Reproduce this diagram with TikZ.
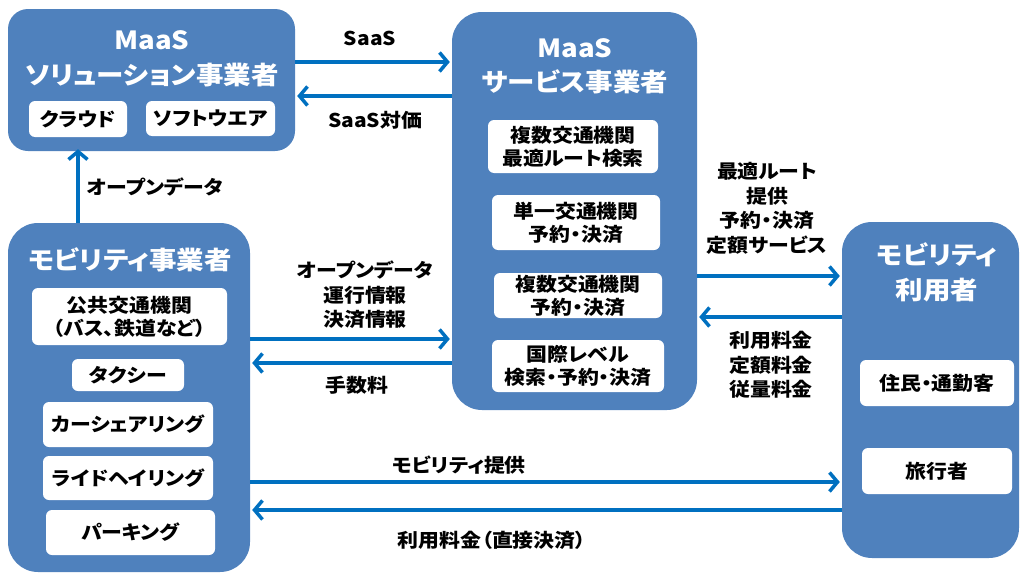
\documentclass[tikz,border=0pt]{standalone}
\usepackage{fontspec}
\setmainfont{Noto Sans CJK JP}[FakeStretch=1.1,RawFeature=+palt]
\usetikzlibrary{arrows.meta}
\definecolor{boxblue}{HTML}{4F81BD}
\definecolor{arrblue}{HTML}{0070C0}
\tikzset{
  bigbox/.style={fill=boxblue,draw=none,rounded corners=26pt,inner sep=0pt},
  subbox/.style={fill=white,draw=none,rounded corners=6pt,inner sep=0pt,font=\bfseries\fontsize{19}{23}\selectfont,align=center},
  title/.style={text=white,font=\bfseries\fontsize{25}{32}\selectfont,inner sep=0pt},
  lbl/.style={font=\bfseries\fontsize{19}{24.5}\selectfont,align=center,inner sep=0pt},
  arr/.style={draw=arrblue,line width=3.5pt,-{Straight Barb[length=8pt,width=19pt]}},
}
\begin{document}
\begin{tikzpicture}[x=1pt,y=-1pt]
\useasboundingbox (0,0) rectangle (1021,573);
% big boxes
\node[bigbox,minimum width=287pt,minimum height=142pt,rounded corners=20pt] (b1) at (151.5,80) {};
\node[bigbox,minimum width=245pt,minimum height=398pt,rounded corners=30pt] (b2) at (574.5,211) {};
\node[bigbox,minimum width=242pt,minimum height=349pt,rounded corners=30pt] (b3) at (129,397.5) {};
\node[bigbox,minimum width=177pt,minimum height=336pt,rounded corners=30pt] (b4) at (930.5,390) {};
% titles
\node[title] (t1a) at (152,40) {MaaS};
\node[title] (t1b) at (152,75) {ソリューション事業者};
\node[title] (t2a) at (575,48) {MaaS};
\node[title] (t2b) at (575,82) {サービス事業者};
\node[title] (t3) at (130,260) {モビリティ事業者};
\node[title] (t4a) at (937,255) {モビリティ};
\node[title] (t4b) at (937,290) {利用者};
% sub boxes
\node[subbox,minimum width=98pt,minimum height=36pt] (c1) at (78,119) {クラウド};
\node[subbox,minimum width=129pt,minimum height=35pt] (c2) at (210.5,118.5) {ソフトウエア};
\node[subbox,minimum width=170pt,minimum height=53pt] (s1) at (573,146.5) {複数交通機関\\最適ルート検索};
\node[subbox,minimum width=168pt,minimum height=55pt] (s2) at (576,222.5) {単一交通機関\\予約・決済};
\node[subbox,minimum width=168pt,minimum height=45pt] (s3) at (578,295.5) {複数交通機関\\予約・決済};
\node[subbox,minimum width=172pt,minimum height=52pt] (s4) at (578,366) {国際レベル\\検索・予約・決済};
\node[subbox,minimum width=195pt,minimum height=57pt] (m1) at (129.5,316.5) {公共交通機関\\（バス、鉄道など）};
\node[subbox,minimum width=112pt,minimum height=32pt] (m2) at (128,375) {タクシー};
\node[subbox,minimum width=170pt,minimum height=45pt] (m3) at (128,424.5) {カーシェアリング};
\node[subbox,minimum width=170pt,minimum height=44pt] (m4) at (128,478) {ライドヘイリング};
\node[subbox,minimum width=169pt,minimum height=45pt] (m5) at (130.5,532.5) {パーキング};
\node[subbox,minimum width=154pt,minimum height=46pt] (u1) at (937,383) {住民・通勤客};
\node[subbox,minimum width=150pt,minimum height=46pt] (u2) at (937,471) {旅行者};
% arrows
\draw[arr] (b1.east |- 0,62) -- ([xshift=-2pt]b2.west |- 0,62);
\draw[arr] (b2.west |- 0,96) -- ([xshift=2pt]b1.east |- 0,96);
\draw[arr] (b3.north -| 78,0) -- ([yshift=2pt]b1.south -| 78,0);
\draw[arr] (b3.east |- 0,339) -- ([xshift=-2pt]b2.west |- 0,339);
\draw[arr] (b2.west |- 0,363) -- ([xshift=2pt]b3.east |- 0,363);
\draw[arr] (b2.east |- 0,276) -- ([xshift=-2pt]b4.west |- 0,276);
\draw[arr] (b4.west |- 0,317) -- ([xshift=2pt]b2.east |- 0,317);
\draw[arr] (b3.east |- 0,482) -- ([xshift=-2pt]b4.west |- 0,482);
\draw[arr] (b4.west |- 0,510) -- ([xshift=2pt]b3.east |- 0,510);
% labels
\node[lbl] (l1) at (370,38) {SaaS};
\node[lbl] (l2) at (375,120) {SaaS対価};
\node[lbl] (l3) at (155,187) {オープンデータ};
\node[lbl] (l4) at (365,295) {オープンデータ\\運行情報\\決済情報};
\node[lbl] (l5) at (357,385) {手数料};
\node[lbl] (l6) at (767,208.5) {最適ルート\\提供\\予約・決済\\定額サービス};
\node[lbl] (l7) at (771,365) {利用料金\\定額料金\\従量料金};
\node[lbl] (l8) at (459,465) {モビリティ提供};
\node[lbl] (l9) at (492,540) {利用料金（直接決済）};
\end{tikzpicture}
\end{document}
